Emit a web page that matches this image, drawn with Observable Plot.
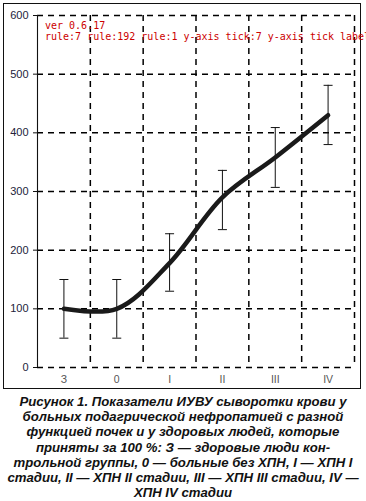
<!DOCTYPE html>
<html>
<head>
<meta charset="utf-8">
<script src="https://cdn.jsdelivr.net/npm/d3@7"></script>
<script src="https://cdn.jsdelivr.net/npm/@observablehq/plot@0.6"></script>
<style>
  html, body { margin: 0; padding: 0; background: #fff; }
  #chart { position: relative; width: 366px; height: 392px; }
  #chart svg { display: block; }
  #border { position: absolute; left: 3px; top: 3px; width: 356px; height: 384px; border: 1.4px solid #111; pointer-events: none; }
  #dbg { position: absolute; left: 45px; top: 20px; font: 10px monospace; color: #c00; white-space: pre; }
  #caption {
    width: 366px;
    font-family: "Liberation Sans", Arial, sans-serif;
    font-weight: bold;
    font-style: italic;
    font-size: 13.2px;
    line-height: 15.2px;
    text-align: center;
    color: #111;
    margin-top: 2px;
  }
</style>
</head>
<body>
<div id="chart"><div id="border"></div><div id="dbg"></div></div>
<div id="caption">Рисунок 1. Показатели ИУВУ сыворотки крови у<br>больных подагрической нефропатией с разной<br>функцией почек и у здоровых людей, которые<br>приняты за 100 %: З — здоровые люди кон-<br>трольной группы, 0 — больные без ХПН, I — ХПН I<br>стадии, II — ХПН II стадии, III — ХПН III стадии, IV —<br>ХПН IV стадии</div>
<script>
const categories = ["З", "0", "I", "II", "III", "IV"];
const meanValues = [100, 100, 178, 290, 358, 430];
const lowValues  = [50, 50, 130, 235, 307, 380];
const highValues = [150, 150, 228, 336, 409, 481];
const yTicks = [0, 100, 200, 300, 400, 500, 600];

const data = categories.map((c, i) => ({
  cat: c, pos: i + 0.5, mean: meanValues[i], low: lowValues[i], high: highValues[i]
}));
const gridX = categories.map((c, i) => i + 1);

const capSymbol = {
  draw(context, size) {
    const r = Math.sqrt(size / Math.PI);
    context.moveTo(-r, 0);
    context.lineTo(r, 0);
  }
};

const W = 366, H = 392;
const M = { left: 37, right: 12, top: 15, bottom: 25 };
const xDomain = [0, categories.length], yDomain = [0, 600];
const innerW = W - M.left - M.right, innerH = H - M.top - M.bottom;
const pxPerY = innerH / (yDomain[1] - yDomain[0]);
const DASH = 6, GAP = 5;

const vDashes = [];
for (const xv of gridX) {
  for (let s = 0; s < innerH; s += DASH + GAP) {
    vDashes.push({ x: xv, y1: yDomain[1] - s / pxPerY, y2: yDomain[1] - Math.min(s + DASH, innerH) / pxPerY });
  }
}

const plot = Plot.plot({
  width: W,
  height: H,
  marginLeft: M.left,
  marginRight: M.right,
  marginTop: M.top,
  marginBottom: M.bottom,
  style: { fontFamily: "'Liberation Sans', Arial, sans-serif", background: "transparent" },
  x: { type: "linear", domain: xDomain },
  y: { domain: yDomain },
  marks: [
    Plot.ruleY(yTicks, { stroke: "#000", strokeWidth: 1.5, strokeDasharray: "6,5", ariaLabel: "hgrid" }),
    Plot.ruleX(vDashes, { x: "x", y1: "y1", y2: "y2", stroke: "#000", strokeWidth: 1.5, ariaLabel: "vgrid" }),
    Plot.ruleX([0], { stroke: "#111", strokeWidth: 1.1 }),
    Plot.axisY({ ticks: yTicks, tickSize: 4, tickPadding: 5, fontSize: 11, fill: "#22223a", label: null, stroke: "#111" }),
    Plot.axisX({ ticks: data.map(d => d.pos), tickFormat: (v) => categories[Math.round(v - 0.5)], tickSize: 0, tickPadding: 8, fontSize: 10.5, fill: "#555", label: null }),
    Plot.ruleX(data, { x: "pos", y1: "low", y2: "high", stroke: "#111", strokeWidth: 1 }),
    Plot.dot(data, { x: "pos", y: "low", symbol: capSymbol, r: 4.5, stroke: "#111", strokeWidth: 1, fill: "none" }),
    Plot.dot(data, { x: "pos", y: "high", symbol: capSymbol, r: 4.5, stroke: "#111", strokeWidth: 1, fill: "none" }),
    Plot.line(data, { x: "pos", y: "mean", curve: "catmull-rom", stroke: "#1a1a1a", strokeWidth: 4.5, strokeLinejoin: "round" })
  ]
});

document.getElementById("chart").appendChild(plot);

// diagnostics
const groups = Array.from(plot.querySelectorAll("g")).map(g => (g.getAttribute("aria-label") || "-") + ":" + g.querySelectorAll("line,path").length);
const hl = plot.querySelector('g[aria-label="hgrid"] line');
const vl = plot.querySelector('g[aria-label="vgrid"] line');
let info = "ver " + (Plot.version || "?") + "\n" + groups.join(" ") + "\n";
if (hl) { const b = hl.getBBox(); info += "h " + hl.outerHTML.slice(0, 120) + "\n" + JSON.stringify([b.x, b.y, b.width, b.height]) + " " + getComputedStyle(hl).stroke + " " + getComputedStyle(hl).visibility + " " + getComputedStyle(hl).display + "\n"; }
if (vl) { info += "v " + vl.outerHTML.slice(0, 120) + "\n"; }
document.getElementById("dbg").textContent = info;
</script>
</body>
</html>
